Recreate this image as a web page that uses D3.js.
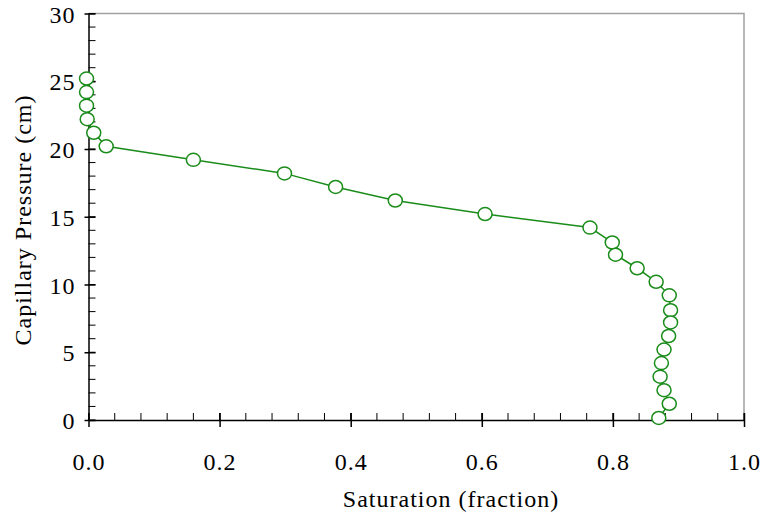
<!DOCTYPE html>
<html>
<head>
<meta charset="utf-8">
<script src="https://cdn.jsdelivr.net/npm/d3@7"></script>
<style>
body { margin: 0; background: #fff; }
</style>
</head>
<body>
<script>
var width = 766, height = 516;
var serif = "'Liberation Serif', 'Times New Roman', Times, serif";

// saturation (fraction) and capillary pressure (cm)
var saturation = [-0.003, -0.003, -0.003, -0.002, 0.008, 0.027, 0.160, 0.299, 0.377, 0.468, 0.605,
  0.765, 0.799, 0.804, 0.837, 0.866, 0.886, 0.888, 0.888, 0.885, 0.878, 0.874, 0.872, 0.878, 0.886, 0.870];
var pressure = [25.2, 24.2, 23.2, 22.2, 21.2, 20.2, 19.2, 18.2, 17.2, 16.2, 15.2,
  14.2, 13.1, 12.2, 11.2, 10.2, 9.2, 8.1, 7.2, 6.2, 5.2, 4.2, 3.2, 2.2, 1.2, 0.15];
var xTicks = [0, 0.2, 0.4, 0.6, 0.8, 1.0];
var yTicks = [0, 5, 10, 15, 20, 25, 30];

var pts = saturation.map(function(s, i) { return [s, pressure[i]]; });

var x = d3.scaleLinear().domain([0, 1]).range([88.5, 744]);
var y = d3.scaleLinear().domain([0, 30]).range([420, 13.5]);

var svg = d3.select("body").append("svg")
  .attr("width", width)
  .attr("height", height);

// frame top / right
svg.append("path")
  .attr("d", "M" + x(0) + "," + y(30) + "H" + x(1) + "V" + y(0))
  .attr("fill", "none")
  .attr("stroke", "#a0a0a0")
  .attr("stroke-width", 1.5);

// minor ticks
var xMinor = d3.range(0, 1.0001, 0.04);
svg.append("g").selectAll("line")
  .data(xMinor).enter().append("line")
  .attr("x1", function(d) { return x(d); })
  .attr("x2", function(d) { return x(d); })
  .attr("y1", y(0))
  .attr("y2", y(0) - 7)
  .attr("stroke", "#000").attr("stroke-width", 1);

var yMinor = d3.range(0, 30.001, 1);
svg.append("g").selectAll("line")
  .data(yMinor).enter().append("line")
  .attr("x1", x(0))
  .attr("x2", x(0) + 7)
  .attr("y1", function(d) { return y(d); })
  .attr("y2", function(d) { return y(d); })
  .attr("stroke", "#000").attr("stroke-width", 1);

// axes
var xAxis = svg.append("g")
  .attr("transform", "translate(0," + y(0) + ")")
  .call(d3.axisBottom(x).tickValues(xTicks).tickFormat(d3.format(".1f")).tickSizeInner(7).tickSizeOuter(0).tickPadding(26));
xAxis.selectAll(".tick line").attr("y1", -7).attr("stroke-width", 1.5);
xAxis.select(".domain").attr("stroke-width", 1.5);

var yAxis = svg.append("g")
  .attr("transform", "translate(" + x(0) + ",0)")
  .call(d3.axisLeft(y).tickValues(yTicks).tickSizeInner(4).tickSizeOuter(0).tickPadding(9));
yAxis.selectAll(".tick line").attr("x1", 7).attr("stroke-width", 1.5);
yAxis.select(".domain").attr("stroke-width", 1.5);

svg.selectAll(".tick text")
  .style("font-family", serif)
  .style("font-size", "24px")
  .style("letter-spacing", "1px")
  .attr("fill", "#000");
yAxis.selectAll(".tick text").attr("dy", "0.36em");

// axis titles
svg.append("text")
  .attr("x", 451)
  .attr("y", 507)
  .attr("text-anchor", "middle")
  .style("font-family", serif)
  .style("font-size", "24px")
  .style("letter-spacing", "1px")
  .text("Saturation (fraction)");

svg.append("text")
  .attr("transform", "translate(31,220) rotate(-90)")
  .attr("text-anchor", "middle")
  .style("font-family", serif)
  .style("font-size", "24px")
  .style("letter-spacing", "1px")
  .text("Capillary Pressure (cm)");

// data line and markers
var green = "#1a8c1a";
var line = d3.line()
  .x(function(d) { return x(d[0]); })
  .y(function(d) { return y(d[1]); });

svg.append("path")
  .datum(pts)
  .attr("d", line)
  .attr("fill", "none")
  .attr("stroke", green)
  .attr("stroke-width", 1.5);

svg.append("g").selectAll("ellipse")
  .data(pts).enter().append("ellipse")
  .attr("cx", function(d) { return x(d[0]); })
  .attr("cy", function(d) { return y(d[1]); })
  .attr("rx", 7)
  .attr("ry", 6.5)
  .attr("fill", "#fff")
  .attr("stroke", green)
  .attr("stroke-width", 1.5);
</script>
</body>
</html>
